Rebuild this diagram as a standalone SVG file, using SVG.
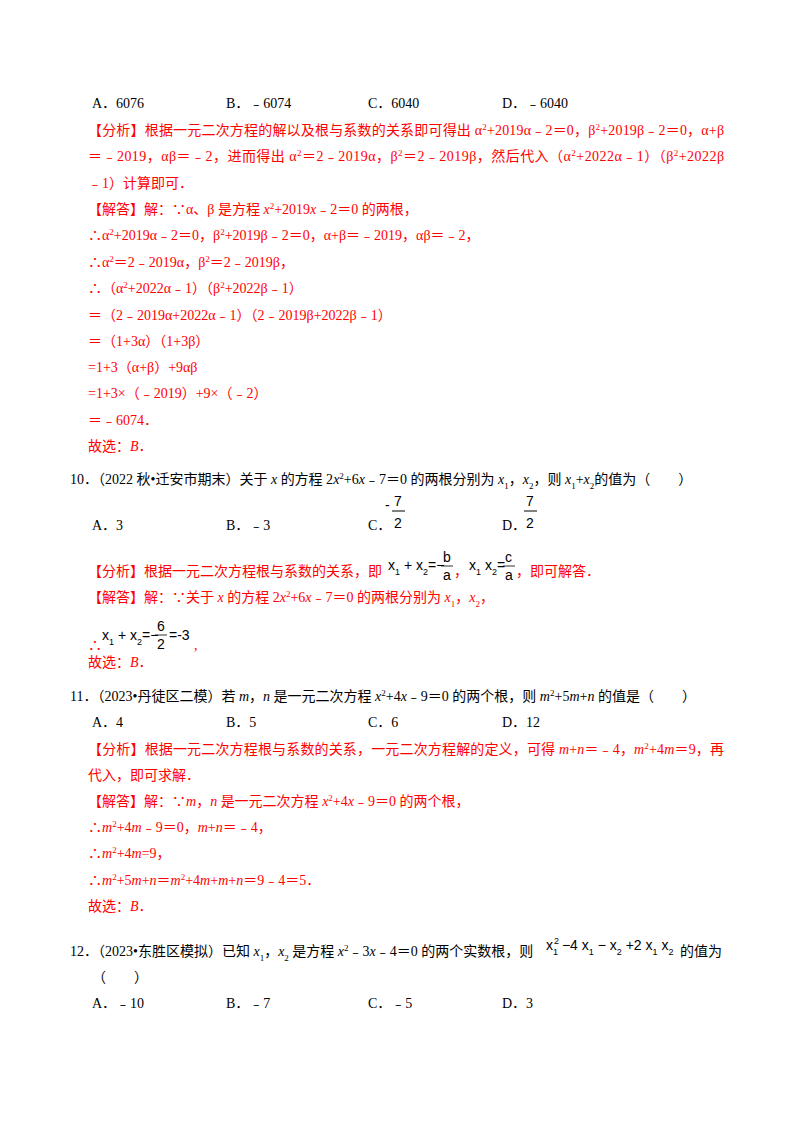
<svg xmlns="http://www.w3.org/2000/svg" width="800" height="1132" viewBox="0 0 800 1132">
<style>
text{font-family:"Liberation Serif","Noto Sans CJK SC",serif;font-size:14px;fill:#000}
.r{fill:#f00}
.m{font-family:"Liberation Sans",sans-serif;font-size:14px}
.s{font-size:9px}
.i{font-style:italic}
</style>
<rect width="800" height="1132" fill="#fff"/>
<g id="q9opts">
<text x="92" y="108">A．6076</text>
<text x="226" y="108">B．﹣6074</text>
<text x="368" y="108">C．6040</text>
<text x="502" y="108">D．﹣6040</text>
</g>
<g id="q9ans">
<text class="r" x="88" y="135" textLength="636" lengthAdjust="spacing">【分析】根据一元二次方程的解以及根与系数的关系即可得出 α<tspan class="s" baseline-shift="super">2</tspan>+2019α﹣2＝0，β<tspan class="s" baseline-shift="super">2</tspan>+2019β﹣2＝0，α+β</text>
<text class="r" x="88" y="161" textLength="636" lengthAdjust="spacing">＝﹣2019，αβ＝﹣2，进而得出 α<tspan class="s" baseline-shift="super">2</tspan>＝2﹣2019α，β<tspan class="s" baseline-shift="super">2</tspan>＝2﹣2019β，然后代入（α<tspan class="s" baseline-shift="super">2</tspan>+2022α﹣1）（β<tspan class="s" baseline-shift="super">2</tspan>+2022β</text>
<text class="r" x="88" y="188">﹣1）计算即可．</text>
<text class="r" x="88" y="214">【解答】解：∵α、β 是方程 <tspan class="i">x</tspan><tspan class="s" baseline-shift="super">2</tspan>+2019<tspan class="i">x</tspan>﹣2＝0 的两根，</text>
<text class="r" x="88" y="240">∴α<tspan class="s" baseline-shift="super">2</tspan>+2019α﹣2＝0，β<tspan class="s" baseline-shift="super">2</tspan>+2019β﹣2＝0，α+β＝﹣2019，αβ＝﹣2，</text>
<text class="r" x="88" y="267">∴α<tspan class="s" baseline-shift="super">2</tspan>＝2﹣2019α，β<tspan class="s" baseline-shift="super">2</tspan>＝2﹣2019β，</text>
<text class="r" x="88" y="293">∴（α<tspan class="s" baseline-shift="super">2</tspan>+2022α﹣1）（β<tspan class="s" baseline-shift="super">2</tspan>+2022β﹣1）</text>
<text class="r" x="88" y="320">＝（2﹣2019α+2022α﹣1）（2﹣2019β+2022β﹣1）</text>
<text class="r" x="88" y="346">＝（1+3α）（1+3β）</text>
<text class="r" x="88" y="372">=1+3（α+β）+9αβ</text>
<text class="r" x="88" y="398">=1+3×（﹣2019）+9×（﹣2）</text>
<text class="r" x="88" y="425">＝﹣6074．</text>
<text class="r" x="88" y="451">故选：<tspan class="i">B</tspan>．</text>
</g>
<g id="q10">
<text x="70" y="484">10．（2022 秋•迁安市期末）关于 <tspan class="i">x</tspan> 的方程 2<tspan class="i">x</tspan><tspan class="s" baseline-shift="super">2</tspan>+6<tspan class="i">x</tspan>﹣7＝0 的两根分别为 <tspan class="i">x</tspan><tspan class="s" baseline-shift="sub">1</tspan>，<tspan class="i">x</tspan><tspan class="s" baseline-shift="sub">2</tspan>，则 <tspan class="i">x</tspan><tspan class="s" baseline-shift="sub">1</tspan>+<tspan class="i">x</tspan><tspan class="s" baseline-shift="sub">2</tspan>的值为（　　）</text>
<text x="92" y="530">A．3</text>
<text x="226" y="530">B．﹣3</text>
<text x="368" y="530">C．</text>
<text class="m" x="385" y="510">-</text>
<text class="m" x="394" y="506">7</text>
<line x1="392" y1="511" x2="405" y2="511" stroke="#000" stroke-width="1"/>
<text class="m" x="394" y="528">2</text>
<text x="502" y="530">D．</text>
<text class="m" x="526" y="506">7</text>
<line x1="524" y1="511" x2="537" y2="511" stroke="#000" stroke-width="1"/>
<text class="m" x="526" y="528">2</text>
</g>
<g id="q10ans">
<text class="r" x="88" y="576">【分析】根据一元二次方程根与系数的关系，即</text>
<text class="m" x="388" y="570">x<tspan class="s" dy="5">1</tspan><tspan dy="-5"> + x</tspan><tspan class="s" dy="5">2</tspan><tspan dy="-5">=−</tspan></text>
<text class="m" x="443" y="562">b</text>
<line x1="441" y1="566" x2="453" y2="566" stroke="#000" stroke-width="0.8"/>
<text class="m" x="443" y="580">a</text>
<text class="r" x="454" y="576">，</text>
<text class="m" x="469" y="570">x<tspan class="s" dy="5">1</tspan><tspan dy="-5"> x</tspan><tspan class="s" dy="5">2</tspan><tspan dy="-5">=</tspan></text>
<text class="m" x="505" y="562">c</text>
<line x1="503" y1="566" x2="515" y2="566" stroke="#000" stroke-width="0.8"/>
<text class="m" x="505" y="580">a</text>
<text class="r" x="516" y="576">，即可解答．</text>
<text class="r" x="88" y="602">【解答】解：∵关于 <tspan class="i">x</tspan> 的方程 2<tspan class="i">x</tspan><tspan class="s" baseline-shift="super">2</tspan>+6<tspan class="i">x</tspan>﹣7＝0 的两根分别为 <tspan class="i">x</tspan><tspan class="s" baseline-shift="sub">1</tspan>，<tspan class="i">x</tspan><tspan class="s" baseline-shift="sub">2</tspan>，</text>
<text class="r" x="88" y="650">∴</text>
<text class="m" x="102" y="640">x<tspan class="s" dy="5">1</tspan><tspan dy="-5"> + x</tspan><tspan class="s" dy="5">2</tspan><tspan dy="-5">=−</tspan></text>
<text class="m" x="157" y="631">6</text>
<line x1="155" y1="635" x2="167" y2="635" stroke="#000" stroke-width="0.8"/>
<text class="m" x="157" y="649">2</text>
<text class="m" x="169" y="640">=-3</text>
<text class="r" x="194" y="650">,</text>
<text class="r" x="88" y="667">故选：<tspan class="i">B</tspan>．</text>
</g>
<g id="q11">
<text x="70" y="701">11．（2023•丹徒区二模）若 <tspan class="i">m</tspan>，<tspan class="i">n</tspan> 是一元二次方程 <tspan class="i">x</tspan><tspan class="s" baseline-shift="super">2</tspan>+4<tspan class="i">x</tspan>﹣9＝0 的两个根，则 <tspan class="i">m</tspan><tspan class="s" baseline-shift="super">2</tspan>+5<tspan class="i">m</tspan>+<tspan class="i">n</tspan> 的值是（　　）</text>
<text x="92" y="727">A．4</text>
<text x="226" y="727">B．5</text>
<text x="368" y="727">C．6</text>
<text x="502" y="727">D．12</text>
<text class="r" x="88" y="754" textLength="636" lengthAdjust="spacing">【分析】根据一元二次方程根与系数的关系，一元二次方程解的定义，可得 <tspan class="i">m</tspan>+<tspan class="i">n</tspan>＝﹣4，<tspan class="i">m</tspan><tspan class="s" baseline-shift="super">2</tspan>+4<tspan class="i">m</tspan>＝9，再</text>
<text class="r" x="88" y="780">代入，即可求解．</text>
<text class="r" x="88" y="806">【解答】解：∵<tspan class="i">m</tspan>，<tspan class="i">n</tspan> 是一元二次方程 <tspan class="i">x</tspan><tspan class="s" baseline-shift="super">2</tspan>+4<tspan class="i">x</tspan>﹣9＝0 的两个根，</text>
<text class="r" x="88" y="832">∴<tspan class="i">m</tspan><tspan class="s" baseline-shift="super">2</tspan>+4<tspan class="i">m</tspan>﹣9＝0，<tspan class="i">m</tspan>+<tspan class="i">n</tspan>＝﹣4，</text>
<text class="r" x="88" y="858">∴<tspan class="i">m</tspan><tspan class="s" baseline-shift="super">2</tspan>+4<tspan class="i">m</tspan>=9，</text>
<text class="r" x="88" y="885">∴<tspan class="i">m</tspan><tspan class="s" baseline-shift="super">2</tspan>+5<tspan class="i">m</tspan>+<tspan class="i">n</tspan>＝<tspan class="i">m</tspan><tspan class="s" baseline-shift="super">2</tspan>+4<tspan class="i">m</tspan>+<tspan class="i">m</tspan>+<tspan class="i">n</tspan>＝9﹣4＝5．</text>
<text class="r" x="88" y="911">故选：<tspan class="i">B</tspan>．</text>
</g>
<g id="q12">
<text x="70" y="956">12．（2023•东胜区模拟）已知 <tspan class="i">x</tspan><tspan class="s" baseline-shift="sub">1</tspan>，<tspan class="i">x</tspan><tspan class="s" baseline-shift="sub">2</tspan> 是方程 <tspan class="i">x</tspan><tspan class="s" baseline-shift="super">2</tspan>﹣3<tspan class="i">x</tspan>﹣4＝0 的两个实数根，则</text>
<text class="m" x="546" y="950">x<tspan class="s" dx="1" dy="-6">2</tspan><tspan class="s" dx="-6" dy="11">1</tspan><tspan dy="-5"> −4 x</tspan><tspan class="s" dy="5">1</tspan><tspan dy="-5"> − x</tspan><tspan class="s" dy="5">2</tspan><tspan dy="-5"> +2 x</tspan><tspan class="s" dy="5">1</tspan><tspan dy="-5"> x</tspan><tspan class="s" dy="5">2</tspan></text>
<text x="680" y="956">的值为</text>
<text x="92" y="982">（　　）</text>
<text x="92" y="1008">A．﹣10</text>
<text x="226" y="1008">B．﹣7</text>
<text x="368" y="1008">C．﹣5</text>
<text x="502" y="1008">D．3</text>
</g>
</svg>
